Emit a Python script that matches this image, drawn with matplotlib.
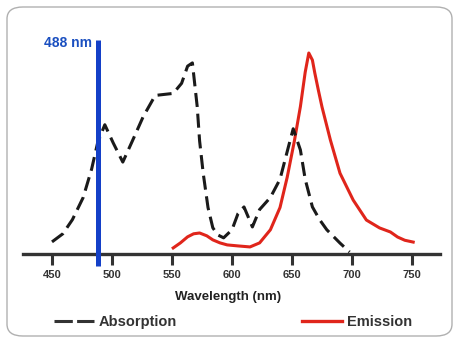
import numpy as np
import matplotlib
matplotlib.use("Agg")
import matplotlib.pyplot as plt
from matplotlib.patches import FancyBboxPatch
from matplotlib.lines import Line2D

# absorption spectrum (wavelength nm, relative intensity)
abs_nm = [450, 459, 467, 476, 483, 488, 494, 501, 509, 517, 526, 536, 551, 558, 563, 567,
          571, 573, 576, 580, 584, 588, 593, 600, 605, 610, 617, 623, 632, 640, 647,
          651, 657, 661, 667, 673, 679, 690, 698]
abs_val = [0.06, 0.10, 0.17, 0.28, 0.42, 0.55, 0.64, 0.55, 0.455, 0.56, 0.68, 0.785, 0.795, 0.845, 0.93, 0.946,
           0.73, 0.56, 0.40, 0.23, 0.13, 0.095, 0.08, 0.12, 0.20, 0.233, 0.134, 0.22, 0.28, 0.37, 0.53,
           0.62, 0.515, 0.37, 0.233, 0.17, 0.12, 0.054, 0.01]

# emission spectrum
em_nm = [551, 557, 563, 568, 573, 579, 584, 590, 596, 605, 615, 623, 632, 640, 646, 652,
         657, 661, 664, 667, 669, 672, 675, 682, 690, 701, 712, 723, 732, 738, 744, 751]
em_val = [0.03, 0.055, 0.085, 0.10, 0.104, 0.09, 0.07, 0.055, 0.045, 0.04, 0.035, 0.055, 0.12, 0.23, 0.38, 0.56,
          0.73, 0.90, 0.995, 0.96, 0.896, 0.81, 0.728, 0.564, 0.40, 0.267, 0.168, 0.129, 0.109, 0.084, 0.068, 0.059]

laser_nm = 488
ticks = [450, 500, 550, 600, 650, 700, 750]

fig = plt.figure(figsize=(4.54, 3.38), dpi=100)
ax = fig.add_axes([0, 0, 1, 1])
ax.patch.set_alpha(0)

# rounded frame round the whole chart
box = FancyBboxPatch((7/454, 2/338), 445/454, 329/338, boxstyle="round,pad=0,rounding_size=0.035",
                     transform=fig.transFigure, facecolor="white", edgecolor="#b0b0b0", lw=1.0, zorder=-5)
fig.patches.append(box)

ax.set_xlim(450 - 52/1.2, 450 + 402/1.2)
ax.set_ylim(-84/202, 254/202)

dash = (4.6, 2.2)
ax.plot(abs_nm, abs_val, color="#1a1a1a", lw=2.2, dashes=dash, zorder=4, solid_joinstyle="round")
ax.plot(em_nm, em_val, color="#e0251b", lw=2.2, zorder=3, solid_joinstyle="round")
ax.vlines(laser_nm, -12/202, 214/202, color="#1440c8", lw=3.6, zorder=5)
ax.text(laser_nm - 4.8, 211/202, "488 nm", color="#1a4fc0", fontsize=10, fontweight="bold",
        family="Liberation Sans", ha="right", va="center")

for s in ["left", "right", "top"]:
    ax.spines[s].set_visible(False)
ax.spines["bottom"].set_position(("data", 0))
ax.spines["bottom"].set_bounds(426, 773)
ax.spines["bottom"].set_linewidth(2.4)
ax.spines["bottom"].set_color("#333333")
ax.set_yticks([])
ax.set_xticks(ticks)
ax.set_xticklabels([str(t) for t in ticks], fontsize=8, fontweight="bold",
                   family="Liberation Sans", color="#333333")
ax.tick_params(axis="x", direction="out", length=8, width=2.2, color="#333333", pad=3.2)

fig.text(228/454, 1 - 297/338, "Wavelength (nm)", ha="center", va="center", fontsize=9.5,
         fontweight="bold", family="Liberation Sans", color="#222222")

handles = [Line2D([], [], color="#333333", lw=2.2, dashes=(6.0, 1.4)),
           Line2D([], [], color="#e0251b", lw=2.4)]
fig.legend(handles, ["Absorption", "Emission"], ncol=2, frameon=False,
           prop={"family": "Liberation Sans", "size": 10.5, "weight": "bold"}, labelcolor="#333333",
           loc="center left", bbox_to_anchor=(54/454, 1 - 322/338),
           handlelength=2.75, handletextpad=0.3, columnspacing=8.6, borderpad=0, borderaxespad=0)

fig.savefig("out.png", dpi=100)
